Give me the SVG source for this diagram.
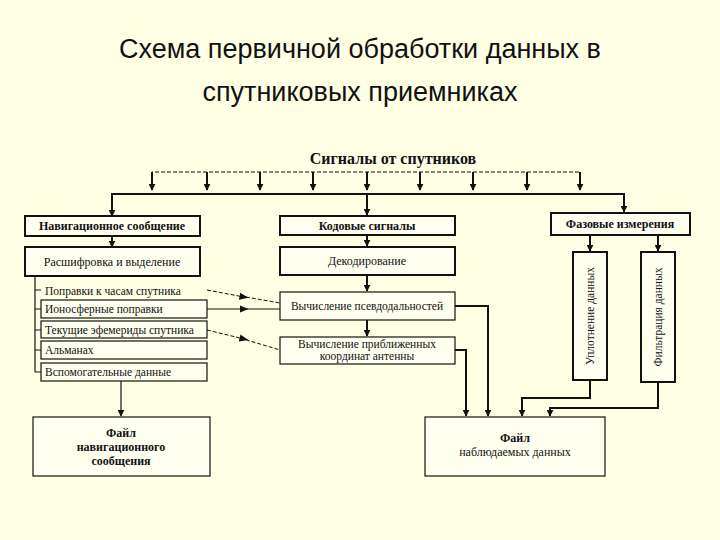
<svg xmlns="http://www.w3.org/2000/svg" width="720" height="540" viewBox="0 0 720 540">
<defs>
<marker id="a" viewBox="0 0 10 10" refX="9" refY="5" markerWidth="7" markerHeight="7" markerUnits="userSpaceOnUse" orient="auto"><path d="M0,0L10,5L0,10z" fill="#111"/></marker>
<marker id="m" viewBox="0 0 10 10" refX="5" refY="5" markerWidth="9" markerHeight="9" markerUnits="userSpaceOnUse" orient="auto"><path d="M0,1L10,5L0,9z" fill="#111"/></marker>
<style>
.b{fill:#fffff0;stroke:#111;stroke-width:2}
.s{fill:#fffff0;stroke:#111;stroke-width:1.2}
.t{font-family:"Liberation Serif",serif;font-size:12px;fill:#111;text-anchor:middle}
.h{font-family:"Liberation Serif",serif;font-size:12px;font-weight:bold;fill:#111;text-anchor:middle}
.l{font-family:"Liberation Serif",serif;font-size:11.5px;fill:#111}
.c{fill:none;stroke:#111;stroke-width:2}
.c1{fill:none;stroke:#111;stroke-width:1.2}
.d{fill:none;stroke:#111;stroke-width:1;stroke-dasharray:4,2}
</style>
</defs>
<rect width="720" height="540" fill="#ffffe4"/>
<g font-family="Liberation Sans,Arial,sans-serif" font-size="27" fill="#111" text-anchor="middle">
<text x="360" y="58">Схема первичной обработки данных в</text>
<text x="360" y="101">спутниковых приемниках</text>
</g>
<g id="connectors">
<text x="393" y="164" class="h" style="font-size:16px">Сигналы от спутников</text>
<path class="d" d="M152,175V172H580V175"/>
<g class="c" marker-end="url(#a)">
<path d="M152,172V190"/><path d="M207,172V190"/><path d="M260,172V190"/><path d="M313,172V190"/><path d="M367,172V190"/><path d="M420,172V190"/><path d="M473,172V190"/><path d="M527,172V190"/><path d="M580,172V190"/>
</g>
<path class="c" d="M112,213V194H624V211"/>
<g class="c" marker-end="url(#a)">
<path d="M112,200V216"/><path d="M367,194V215"/><path d="M624,200V212"/>
<path d="M112,236V247"/><path d="M367,235V246"/><path d="M367,275V291"/><path d="M367,320V336"/>
<path d="M590,235V251"/><path d="M658,235V251"/>
<path d="M455,306H488V416"/><path d="M455,350H466V416"/>
<path d="M590,380V398H522V416"/><path d="M658,382V408H550V416"/>
</g>
<path class="c1" d="M35,276V372M35,290H41M35,309H41M35,330H41M35,350H41M35,372H41"/>
<path class="c1" d="M121,381V416" marker-end="url(#a)"/>
<path class="d" d="M207,290L244,297" marker-end="url(#m)"/><path class="d" d="M240,296L280,303"/>
<path class="c1" d="M207,309H244" marker-end="url(#m)"/><path class="c1" d="M240,309H280"/>
<path class="d" d="M207,330L244,339" marker-end="url(#m)"/><path class="d" d="M240,338L280,350"/>
</g>
<g id="nav"><rect class="b" x="25" y="216" width="175" height="20"/><text class="h" x="112" y="230">Навигационное сообщение</text></g>
<g id="dec"><rect class="b" x="25" y="247" width="175" height="29"/><text class="t" x="112" y="266">Расшифровка и выделение</text></g>
<g id="s1"><text class="l" x="45" y="295">Поправки к часам спутника</text></g>
<g id="s2"><rect class="s" x="41" y="300" width="166" height="18"/><text class="l" x="45" y="313">Ионосферные поправки</text></g>
<g id="s3"><rect class="s" x="41" y="321" width="166" height="17"/><text class="l" x="45" y="334">Текущие эфемериды спутника</text></g>
<g id="s4"><rect class="s" x="41" y="341" width="166" height="18"/><text class="l" x="45" y="354">Альманах</text></g>
<g id="s5"><rect class="s" x="41" y="363" width="166" height="18"/><text class="l" x="45" y="376">Вспомогательные данные</text></g>
<g id="fnav"><rect class="s" x="33" y="417" width="177" height="59"/><text class="h" x="121" y="437">Файл</text><text class="h" x="121" y="451">навигационного</text><text class="h" x="121" y="465">сообщения</text></g>
<g id="code"><rect class="b" x="280" y="216" width="175" height="19"/><text class="h" x="367" y="230">Кодовые сигналы</text></g>
<g id="decod"><rect class="b" x="280" y="247" width="175" height="28"/><text class="t" x="367" y="265">Декодирование</text></g>
<g id="pseudo"><rect class="s" x="280" y="292" width="175" height="28"/><text class="l" x="367" y="310" text-anchor="middle">Вычисление псевдодальностей</text></g>
<g id="approx"><rect class="s" x="280" y="337" width="175" height="27"/><text class="l" x="367" y="348" text-anchor="middle">Вычисление приближенных</text><text class="l" x="367" y="360" text-anchor="middle">координат антенны</text></g>
<g id="phase"><rect class="b" x="551" y="213" width="139" height="22"/><text class="h" x="620" y="228">Фазовые измерения</text></g>
<g id="upl"><rect class="b" x="573" y="252" width="34" height="128"/><text class="l" text-anchor="middle" transform="translate(594,316) rotate(-90)">Уплотнение данных</text></g>
<g id="fil"><rect class="b" x="641" y="252" width="34" height="130"/><text class="l" text-anchor="middle" transform="translate(662,317) rotate(-90)">Фильтрация данных</text></g>
<g id="fobs"><rect class="s" x="425" y="417" width="180" height="59"/><text class="h" x="515" y="442">Файл</text><text class="t" x="515" y="456">наблюдаемых данных</text></g>
</svg>
